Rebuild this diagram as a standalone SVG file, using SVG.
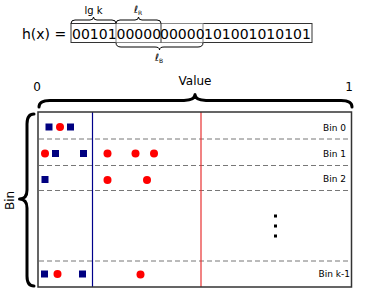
<svg xmlns="http://www.w3.org/2000/svg" width="374" height="292" viewBox="0 0 374 292">
<style>
text{font-family:"DejaVu Sans",sans-serif;fill:#000}
.brace{fill:none;stroke:#000;stroke-linecap:round;stroke-linejoin:round}
.dash{stroke:#777;stroke-width:1;stroke-dasharray:5,3}
.sq{fill:#000080}
.ci{fill:#ff0000}
.bin{font-size:9px;text-anchor:end}
.bits{font-size:14px}
</style>
<g id="hash">
<text x="22" y="39" font-size="14">h(x) =</text>
<rect x="71" y="23.5" width="241" height="19" fill="none" stroke="#333" stroke-width="1"/>
<rect x="116" y="23.5" width="87" height="19" fill="none" stroke="#888" stroke-width="1"/>
<line x1="161" y1="23.5" x2="161" y2="42.5" stroke="#333"/>
<text class="bits" x="72" y="39">00101</text>
<text class="bits" x="116.5" y="39">00000</text>
<text class="bits" x="160" y="39">00000</text>
<text class="bits" x="204" y="39">101001010101</text>
</g>
<g id="braces-top">
<path class="brace" stroke-width="1" d="M71,23 Q71,20 75,20 L90,20 Q93.5,20 93.5,17 Q93.5,20 97,20 L112,20 Q116,20 116,23"/>
<text x="93.5" y="14" font-size="10" text-anchor="middle">lg k</text>
<path class="brace" stroke-width="1" d="M116,23 Q116,20 120,20 L135,20 Q138.5,20 138.5,17 Q138.5,20 142,20 L157,20 Q161,20 161,23"/>
<text x="138" y="13" font-size="10" text-anchor="middle" font-style="italic">ℓ<tspan font-size="6" dy="2" font-style="normal">R</tspan></text>
<path class="brace" stroke-width="1" d="M116,43 Q116,47 121,47 L155,47 Q159.5,47 159.5,50 Q159.5,47 164,47 L198,47 Q203,47 203,43"/>
<text x="159" y="61" font-size="10" text-anchor="middle" font-style="italic">ℓ<tspan font-size="6" dy="2" font-style="normal">B</tspan></text>
</g>
<g id="axes">
<text x="37" y="91" font-size="12" text-anchor="middle">0</text>
<text x="349" y="91" font-size="12" text-anchor="middle">1</text>
<text x="195" y="85" font-size="12" text-anchor="middle">Value</text>
<path class="brace" stroke-width="3" d="M39,107 Q39,100.5 50,100.5 L184,100.5 Q195,100 195,94.5 Q195,100 206,100.5 L341,100.5 Q352,100.5 352,107"/>
<path class="brace" stroke-width="3" d="M34,114 Q27,114 27,124 L27,190 Q27,199 19.5,199 Q27,199 27,208 L27,276 Q27,286 34,286"/>
<text transform="translate(14,210) rotate(-90)" font-size="12">Bin</text>
</g>
<g id="grid">
<line class="dash" x1="39" y1="139" x2="351" y2="139"/>
<line class="dash" x1="39" y1="165.5" x2="351" y2="165.5"/>
<line class="dash" x1="39" y1="190.5" x2="351" y2="190.5"/>
<line class="dash" x1="39" y1="261" x2="351" y2="261"/>
<line x1="92.5" y1="112" x2="92.5" y2="287" stroke="#00008b" stroke-width="1.2"/>
<line x1="201" y1="112" x2="201" y2="287" stroke="#e83030" stroke-width="1.2"/>
<rect x="38" y="112" width="313.5" height="175" fill="none" stroke="#333" stroke-width="1.5"/>
</g>
<g id="labels">
<text class="bin" x="346" y="131">Bin 0</text>
<text class="bin" x="346" y="157">Bin 1</text>
<text class="bin" x="346" y="182">Bin 2</text>
<text class="bin" x="350" y="277">Bin k-1</text>
<rect x="274" y="214.5" width="3" height="3"/>
<rect x="274" y="224.5" width="3" height="3"/>
<rect x="274" y="234.5" width="3" height="3"/>
</g>
<g id="points">
<rect class="sq" x="45.5" y="123.5" width="7" height="7"/>
<circle class="ci" cx="60" cy="127" r="4"/>
<rect class="sq" x="67" y="123.5" width="7" height="7"/>
<circle class="ci" cx="45" cy="153.5" r="4"/>
<rect class="sq" x="52" y="150" width="7" height="7"/>
<rect class="sq" x="80" y="150" width="7" height="7"/>
<circle class="ci" cx="107.5" cy="153.5" r="4"/>
<circle class="ci" cx="135.5" cy="153.5" r="4"/>
<circle class="ci" cx="154" cy="153.5" r="4"/>
<rect class="sq" x="41.5" y="176" width="7" height="7"/>
<circle class="ci" cx="107.5" cy="180" r="4"/>
<circle class="ci" cx="147" cy="180" r="4"/>
<rect class="sq" x="41" y="270.5" width="7" height="7"/>
<circle class="ci" cx="57.5" cy="274" r="4"/>
<rect class="sq" x="79" y="270.5" width="7" height="7"/>
<circle class="ci" cx="140.5" cy="274.5" r="4"/>
</g>
</svg>
